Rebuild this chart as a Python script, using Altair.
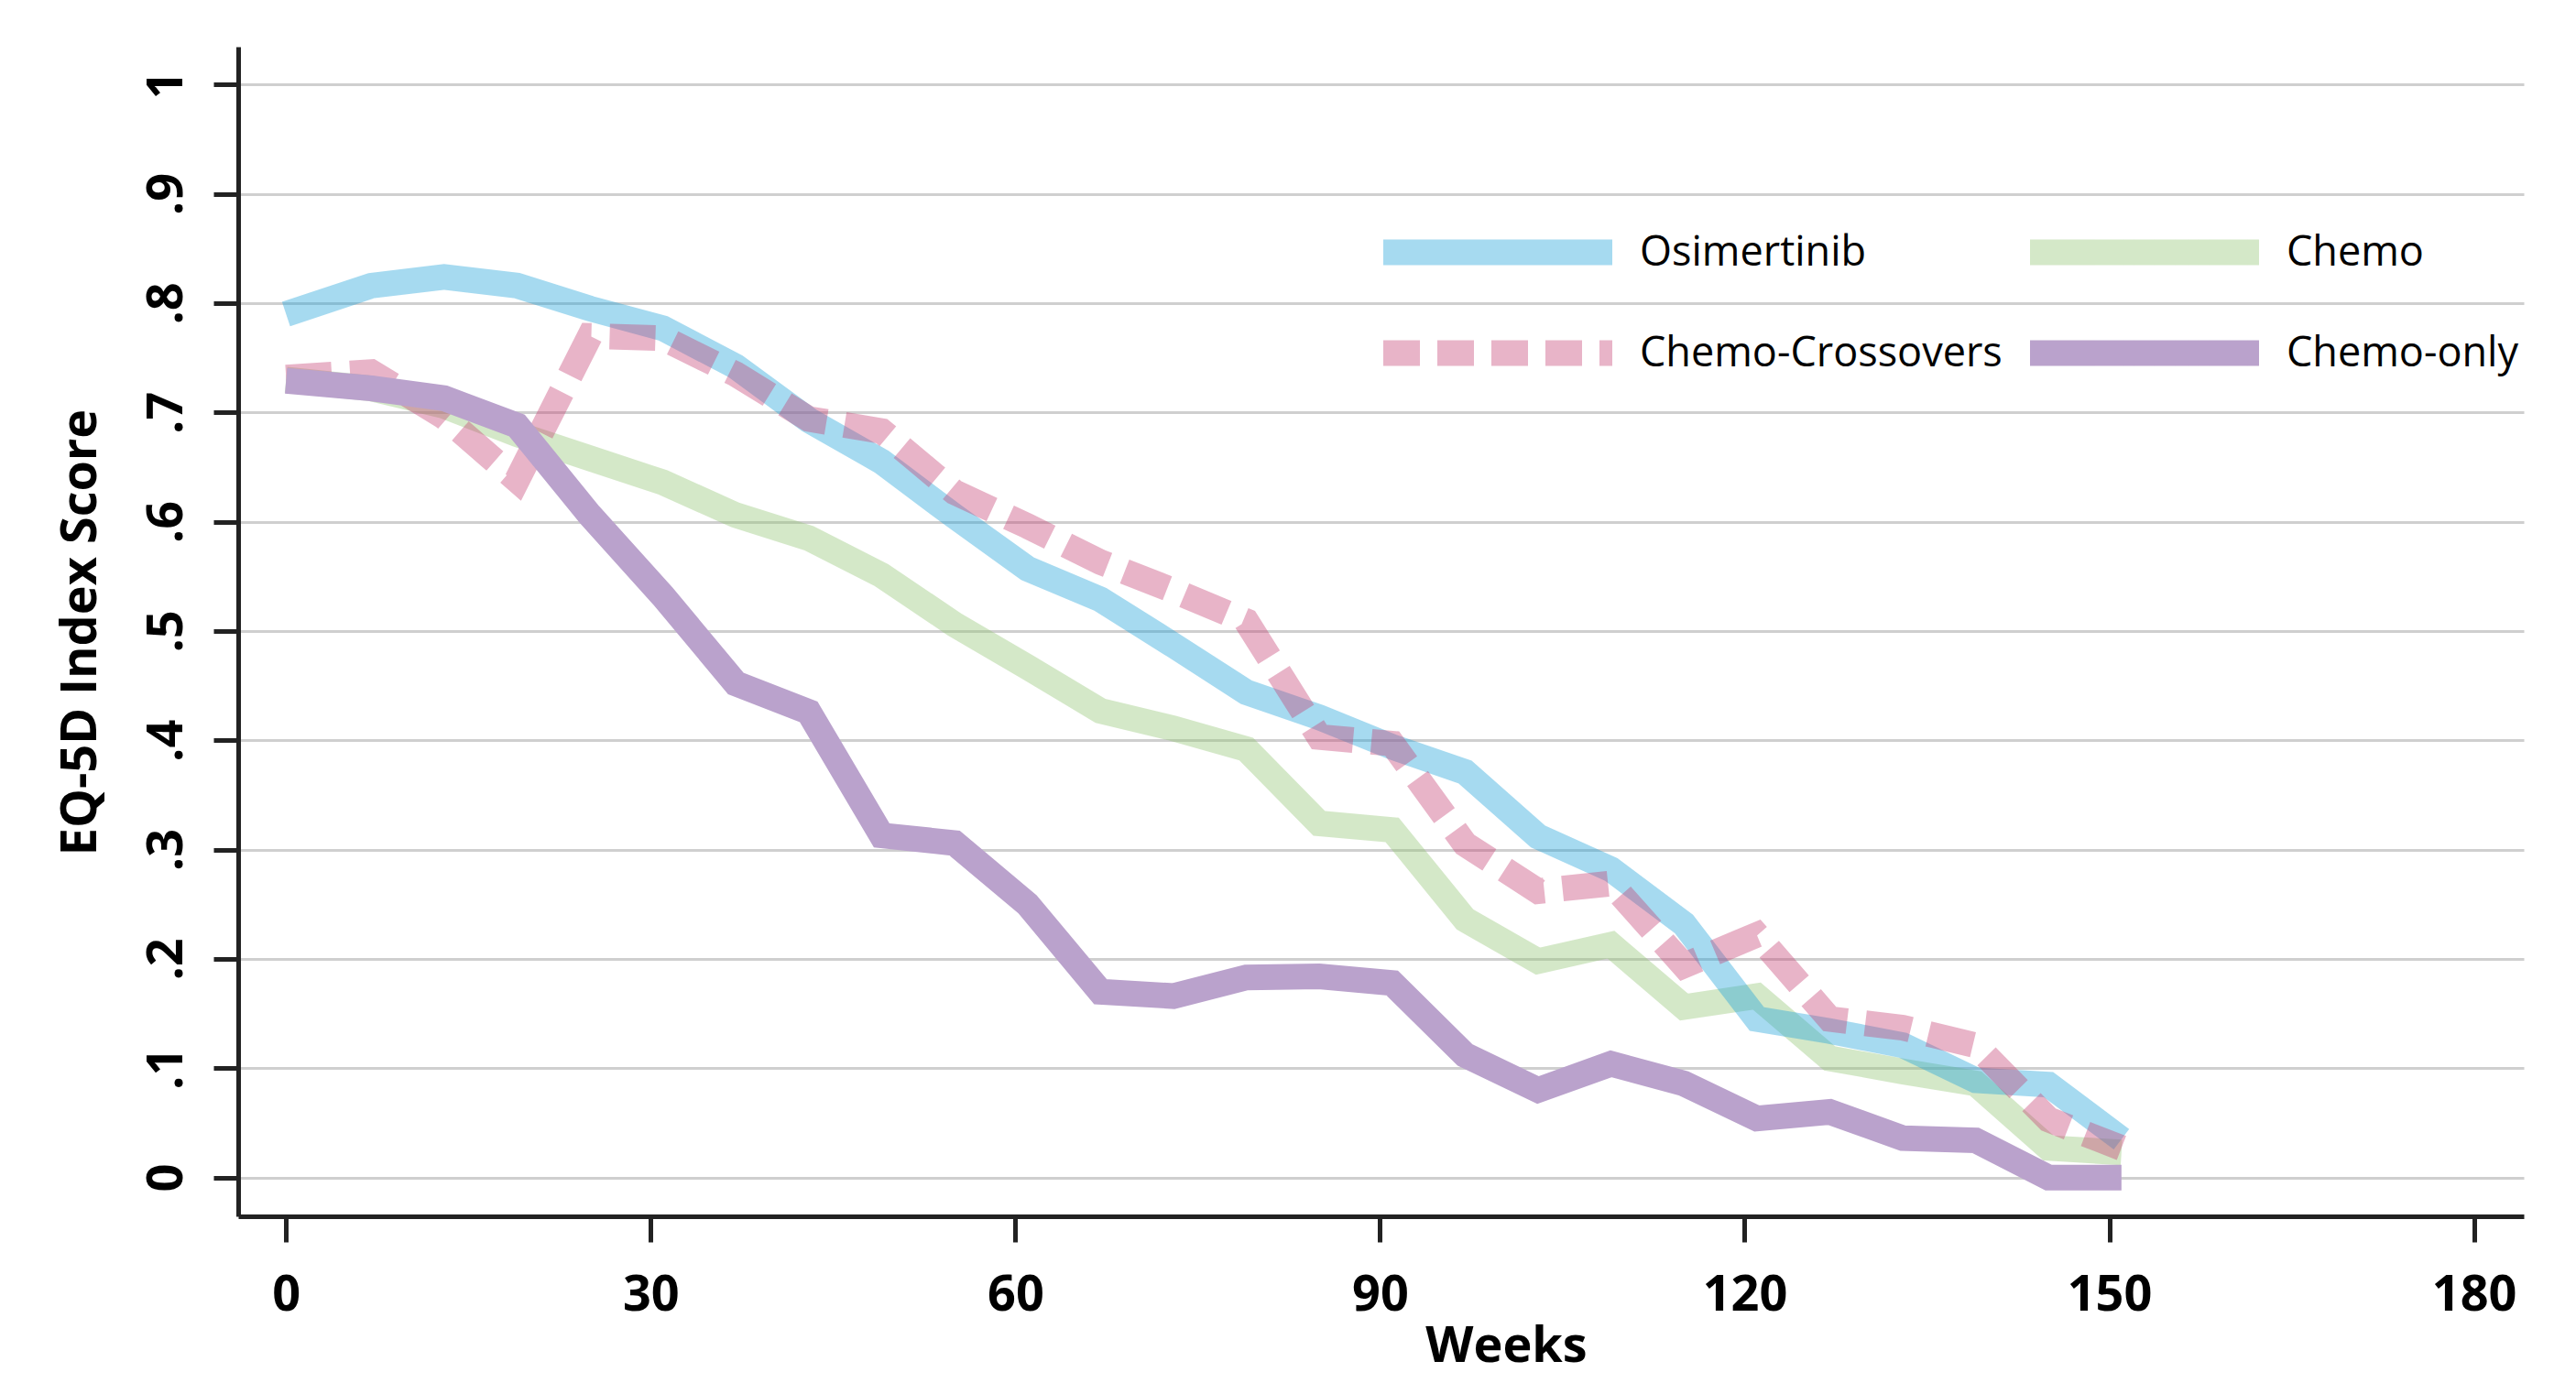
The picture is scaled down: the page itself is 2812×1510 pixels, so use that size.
import altair as alt
import pandas as pd

# ---------------- data ----------------
weeks = [0, 7, 13, 19, 25, 31, 37, 43, 49, 55, 61, 67, 73, 79, 85, 91, 97,
         103, 109, 115, 121, 127, 133, 139, 145, 151]

osimertinib = [0.790, 0.816, 0.824, 0.816, 0.795, 0.777, 0.742, 0.693, 0.655,
               0.605, 0.557, 0.529, 0.487, 0.444, 0.421, 0.394, 0.371, 0.312,
               0.282, 0.232, 0.145, 0.134, 0.121, 0.089, 0.085, 0.035]

chemo = [0.730, 0.722, 0.706, 0.680, 0.658, 0.636, 0.606, 0.585, 0.551,
         0.506, 0.467, 0.427, 0.411, 0.392, 0.324, 0.318, 0.236, 0.198,
         0.213, 0.156, 0.166, 0.109, 0.097, 0.086, 0.027, 0.023]

chemo_crossovers = [0.732, 0.737, 0.696, 0.638, 0.770, 0.768, 0.735, 0.694,
                    0.683, 0.627, 0.596, 0.563, 0.537, 0.509, 0.403, 0.397,
                    0.305, 0.262, 0.269, 0.194, 0.222, 0.145, 0.137, 0.121,
                    0.053, 0.027]

chemo_only = [0.729, 0.722, 0.713, 0.688, 0.606, 0.532, 0.452, 0.426, 0.313,
              0.306, 0.250, 0.170, 0.166, 0.183, 0.184, 0.178, 0.112, 0.080,
              0.104, 0.086, 0.054, 0.060, 0.036, 0.034, 0.000, 0.000]

series_names = ["Osimertinib", "Chemo", "Chemo-Crossovers", "Chemo-only"]
series_values = [osimertinib, chemo, chemo_crossovers, chemo_only]

x_ticks = [0, 30, 60, 90, 120, 150, 180]
y_ticks = [0, 0.1, 0.2, 0.3, 0.4, 0.5, 0.6, 0.7, 0.8, 0.9, 1]
y_tick_labels = ["0", ".1", ".2", ".3", ".4", ".5", ".6", ".7", ".8", ".9", "1"]

# ---------------- styles ----------------
# legend is filled column by column: col 1 = Osimertinib / Chemo-Crossovers,
# col 2 = Chemo / Chemo-only
legend_order = ["Osimertinib", "Chemo-Crossovers", "Chemo", "Chemo-only"]
legend_colors = ["#A6DAF0", "#E8B4C8", "#D4E8C8", "#BAA2CC"]
legend_dashes = [[1, 0], [40, 19], [1, 0], [1, 0]]
# drawing order and line styles: (series, stroke colour, opacity, dash)
draw_styles = [
    ("Chemo", "#94C676", 0.4, None),
    ("Osimertinib", "#21A3DA", 0.4, None),
    ("Chemo-Crossovers", "#C54375", 0.4, [50, 20]),
    ("Chemo-only", "#BAA2CC", 1.0, None),
]

FONT = "Open Sans"
W, H = 2495, 1277

rows = []
for name, vals in zip(series_names, series_values):
    for w, v in zip(weeks, vals):
        rows.append({"series": name, "week": w, "score": v})
df = pd.DataFrame(rows)

label_expr = "[" + ",".join("'%s'" % s for s in y_tick_labels) + "][round(datum.value*10)]"

x_enc = alt.X(
    "week:Q",
    scale=alt.Scale(domain=[-3.94, 184.1], nice=False, zero=False),
    axis=alt.Axis(
        values=x_ticks, grid=False, title="Weeks",
        domainColor="#222222", domainWidth=5,
        tickColor="#222222", tickWidth=5, tickSize=28,
        labelFont=FONT, labelFontSize=54, labelFontWeight="bold", labelColor="#000000",
        labelPadding=31, labelBaseline="top", labelAlign="center",
        labelFlush=False, labelOverlap=False,
        titleFont=FONT, titleFontSize=54, titleFontWeight="bold", titleColor="#000000",
        titleX=1384, titleY=158, titleAlign="center", titleBaseline="alphabetic",
    ),
)

y_enc = alt.Y(
    "score:Q",
    scale=alt.Scale(domain=[-0.0355, 1.0346], nice=False, zero=False),
    axis=alt.Axis(
        values=y_ticks, labelExpr=label_expr, title="EQ-5D Index Score",
        grid=True, gridColor="#CFCFCF", gridWidth=3,
        domainColor="#222222", domainWidth=5,
        tickColor="#222222", tickWidth=5, tickSize=27,
        labelFont=FONT, labelFontSize=54, labelFontWeight="bold", labelColor="#000000",
        labelAngle=270, labelAlign="center", labelBaseline="alphabetic",
        labelPadding=35, labelFlush=False, labelOverlap=False,
        titleFont=FONT, titleFontSize=54, titleFontWeight="bold", titleColor="#000000",
        titleAngle=270, titleX=-156, titleY=639, titleAlign="center",
        titleBaseline="alphabetic",
    ),
)

legend = alt.Legend(
    title=None, orient="none", legendX=1236, legendY=201, columns=2,
    symbolType="stroke", symbolSize=62500, symbolStrokeWidth=28,
    labelFont=FONT, labelFontSize=45, labelColor="#000000", labelOffset=16,
    labelLimit=0, clipHeight=47, rowPadding=63, columnPadding=16, padding=0,
)

legend_layer = alt.Chart(df).transform_filter("false").mark_line().encode(
    x=x_enc, y=y_enc,
    color=alt.Color("series:N", scale=alt.Scale(domain=legend_order, range=legend_colors), legend=legend),
    strokeDash=alt.StrokeDash("series:N", scale=alt.Scale(domain=legend_order, range=legend_dashes), legend=legend),
)

layers = [legend_layer]
for name, col, op, dash in draw_styles:
    kw = dict(strokeWidth=28, strokeOpacity=op, strokeCap="butt", strokeJoin="miter")
    if dash:
        kw["strokeDash"] = dash
    layers.append(
        alt.Chart(df).transform_filter(alt.datum.series == name)
        .mark_line(**kw)
        .encode(x=x_enc, y=y_enc, color=alt.value(col), order=alt.Order("week:Q"))
    )

chart = alt.layer(*layers).properties(
    width=W, height=H,
    autosize=alt.AutoSizeParams(type="none"),
    padding={"left": 252, "top": 43, "right": 40, "bottom": 174},
    background="white",
).configure_view(stroke=None)

chart.save("out.html", embed_options={"renderer": "svg", "actions": False})
